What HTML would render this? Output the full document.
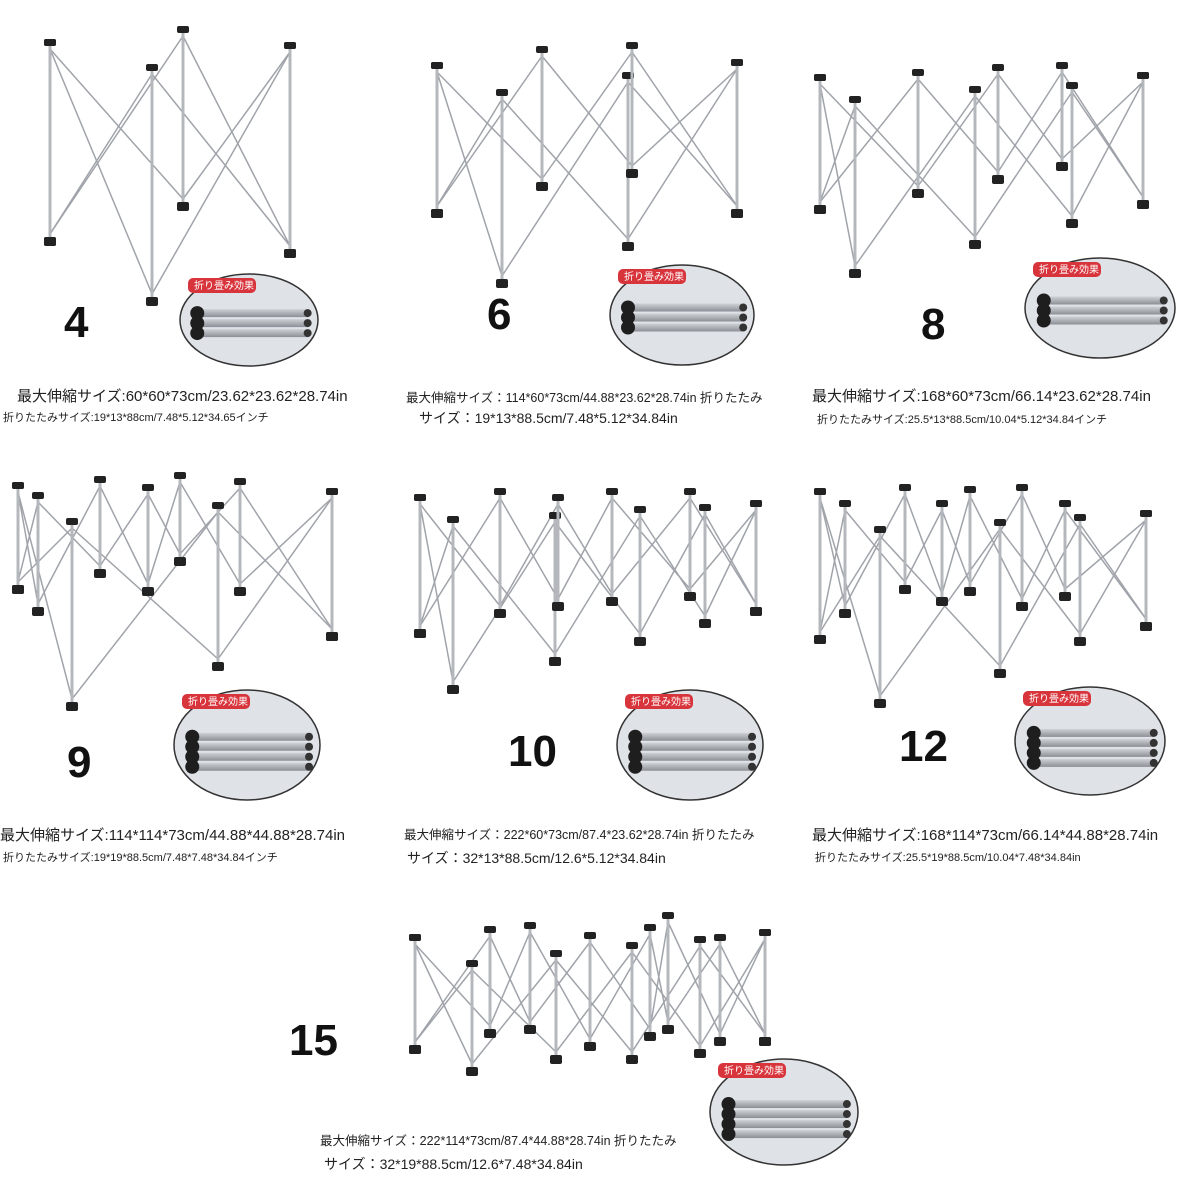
<!DOCTYPE html>
<html><head><meta charset="utf-8"><style>
body{margin:0;background:#fff;width:1200px;height:1200px;position:relative;overflow:hidden;font-family:"Liberation Sans","Noto Sans CJK JP",sans-serif;color:#222}
.t{position:absolute;white-space:nowrap}
.big{font-size:44px;font-weight:bold;color:#111}
.l1{font-size:15px}
.l2{font-size:11px}
.m{font-size:12.5px}
.m2{font-size:14px}
svg{position:absolute;left:0;top:0}
</style></head><body>
<svg id="s" width="1200" height="1200" xmlns="http://www.w3.org/2000/svg">
<defs>
<linearGradient id="g" x1="0" y1="0" x2="0" y2="1"><stop offset="0" stop-color="#cfd2d6"/><stop offset="1" stop-color="#8c9096"/></linearGradient>
</defs>
<g id="frames" stroke="#9a9ea4" stroke-width="1.6" fill="none"></g>
<g id="ins"></g>
</svg>
<div class="t big" style="left:64px;top:298px">4</div>
<div class="t big" style="left:487px;top:290px">6</div>
<div class="t big" style="left:921px;top:300px">8</div>
<div class="t big" style="left:67px;top:738px">9</div>
<div class="t big" style="left:508px;top:727px">10</div>
<div class="t big" style="left:899px;top:722px">12</div>
<div class="t big" style="left:289px;top:1016px">15</div>

<div class="t l1" style="left:17px;top:385px">最大伸縮サイズ:60*60*73cm/23.62*23.62*28.74in</div>
<div class="t l2" style="left:3px;top:409px">折りたたみサイズ:19*13*88cm/7.48*5.12*34.65インチ</div>
<div class="t m" style="left:406px;top:387px">最大伸縮サイズ：114*60*73cm/44.88*23.62*28.74in 折りたたみ</div>
<div class="t m2" style="left:419px;top:408px">サイズ：19*13*88.5cm/7.48*5.12*34.84in</div>
<div class="t l1" style="left:812px;top:385px">最大伸縮サイズ:168*60*73cm/66.14*23.62*28.74in</div>
<div class="t l2" style="left:817px;top:411px">折りたたみサイズ:25.5*13*88.5cm/10.04*5.12*34.84インチ</div>

<div class="t l1" style="left:0px;top:824px">最大伸縮サイズ:114*114*73cm/44.88*44.88*28.74in</div>
<div class="t l2" style="left:3px;top:849px">折りたたみサイズ:19*19*88.5cm/7.48*7.48*34.84インチ</div>
<div class="t m" style="left:404px;top:824px">最大伸縮サイズ：222*60*73cm/87.4*23.62*28.74in 折りたたみ</div>
<div class="t m2" style="left:407px;top:848px">サイズ：32*13*88.5cm/12.6*5.12*34.84in</div>
<div class="t l1" style="left:812px;top:824px">最大伸縮サイズ:168*114*73cm/66.14*44.88*28.74in</div>
<div class="t l2" style="left:815px;top:849px">折りたたみサイズ:25.5*19*88.5cm/10.04*7.48*34.84in</div>

<div class="t m" style="left:320px;top:1130px">最大伸縮サイズ：222*114*73cm/87.4*44.88*28.74in 折りたたみ</div>
<div class="t m2" style="left:324px;top:1154px">サイズ：32*19*88.5cm/12.6*7.48*34.84in</div>

<script>
var NS="http://www.w3.org/2000/svg",F=document.getElementById('frames'),I=document.getElementById('ins');
function el(p,t,a){var e=document.createElementNS(NS,t);for(var k in a)e.setAttribute(k,a[k]);p.appendChild(e);return e;}
function ln(a,b,c,d,w,col){el(F,'line',{x1:a,y1:b,x2:c,y2:d,'stroke-width':w||1.5,stroke:col||'#a0a4aa'});}
function frame(rows){
 rows.forEach(function(r){
  for(var i=0;i<r.length-1;i++){var p=r[i],q=r[i+1];
   ln(p[0],p[1]+4,q[0],q[2]-6);ln(p[0],p[2]-6,q[0],q[1]+4);}
 });
 rows.forEach(function(r){r.forEach(function(p){
  ln(p[0],p[1],p[0],p[2],3,'#b4b8bd');
  el(F,'rect',{x:p[0]-6,y:p[1]-6,width:12,height:7,fill:'#222',stroke:'none',rx:2});
  el(F,'rect',{x:p[0]-6,y:p[2]-3,width:12,height:9,fill:'#222',stroke:'none',rx:2});
 });});
}
frame([[[50,45,240],[152,70,300],[290,48,252]],[[50,45,240],[183,32,205],[290,48,252]]]);
frame([[[437,68,212],[502,95,282],[628,78,245],[737,65,212]],[[437,68,212],[542,52,185],[632,48,172],[737,65,212]]]);
frame([[[820,80,208],[855,102,272],[975,92,243],[1072,88,222],[1143,78,203]],[[820,80,208],[918,75,192],[998,70,178],[1062,68,165],[1143,78,203]]]);
frame([[[18,488,588],[72,524,705],[218,508,665],[332,494,635]],[[18,488,588],[38,498,610],[100,482,572],[148,490,590],[180,478,560],[240,484,590],[332,494,635]]]);
frame([[[420,500,632],[453,522,688],[555,518,660],[640,512,640],[705,510,622],[756,506,610]],[[420,500,632],[500,494,612],[558,500,605],[612,494,600],[690,494,595],[756,506,610]]]);
frame([[[820,494,638],[880,532,702],[1000,525,672],[1080,520,640],[1146,516,625]],[[820,494,638],[845,506,612],[905,490,588],[942,506,600],[970,492,590],[1022,490,605],[1065,506,595],[1146,516,625]]]);
frame([[[415,940,1048],[472,966,1070],[556,956,1058],[632,948,1058],[700,942,1052],[765,935,1040]],[[415,940,1048],[490,932,1032],[530,928,1028],[590,938,1045],[650,930,1035],[668,918,1028],[720,940,1040],[765,935,1040]]]);
var ins=[[249,320,69,46],[682,315,72,50],[1100,308,75,50],[247,745,73,55],[690,745,73,55],[1090,741,75,54],[784,1112,74,53]];
ins.forEach(function(c,k){
 var id='c'+k;var cp=el(I,'clipPath',{id:id});el(cp,'ellipse',{cx:c[0],cy:c[1],rx:c[2],ry:c[3]});
 var g=el(I,'g',{'clip-path':'url(#'+id+')'});
 el(g,'rect',{x:c[0]-c[2],y:c[1]-c[3],width:c[2]*2,height:c[3]*2,fill:'#dfe3e8'});
 var n=k<3?3:4;
 for(var j=0;j<n;j++){var y=c[1]-c[3]*0.15+j*10;
  el(g,'rect',{x:c[0]-c[2]*0.75,y:y-4,width:c[2]*1.6,height:8,fill:'url(#g)'});
  el(g,'circle',{cx:c[0]-c[2]*0.75,cy:y,r:7,fill:'#1e1e1e'});
  el(g,'circle',{cx:c[0]+c[2]*0.85,cy:y,r:4,fill:'#333'});}
 el(I,'ellipse',{cx:c[0],cy:c[1],rx:c[2],ry:c[3],fill:'none',stroke:'#333','stroke-width':1.5});
 el(I,'rect',{x:c[0]-c[2]+8,y:c[1]-c[3]+4,width:68,height:15,rx:5,fill:'#d8343c'});
 var t=el(I,'text',{x:c[0]-c[2]+14,y:c[1]-c[3]+15,'font-size':10,fill:'#fff','font-family':'Liberation Sans, Noto Sans CJK JP, sans-serif'});t.textContent='折り畳み効果';
});
</script>
</body></html>
